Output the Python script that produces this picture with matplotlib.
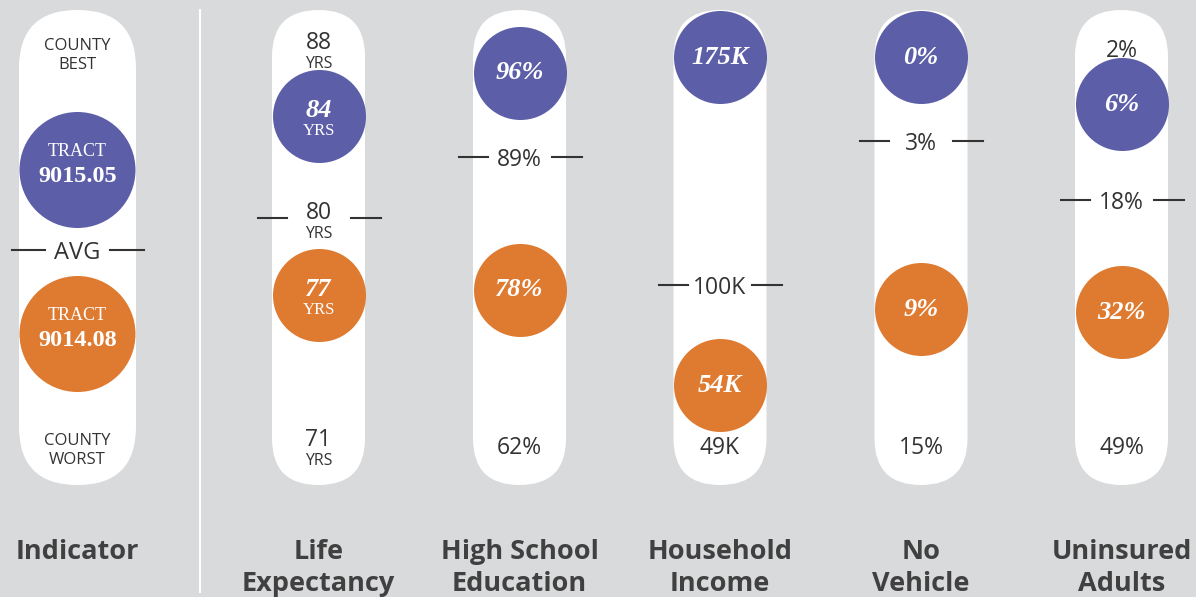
import matplotlib.pyplot as plt
from matplotlib.patches import FancyBboxPatch, Circle

# ---- data ----
indicators = ["Life\nExpectancy", "High School\nEducation", "Household\nIncome",
              "No\nVehicle", "Uninsured\nAdults"]
units = ["YRS", "", "", "", ""]
suffix = ["", "%", "K", "%", "%"]
tract_names = ["9015.05", "9014.08"]
tract_a = [84, 96, 175, 0, 6]        # tract 9015.05
tract_b = [77, 78, 54, 9, 32]        # tract 9014.08
county_avg = [80, 89, 100, 3, 18]
county_best = [88, 96, 175, 0, 2]
county_worst = [71, 62, 49, 15, 49]

# value range of each track (top end, bottom end)
scale_top = [86.3, 97.3, 175, 0, 0.1]
scale_bottom = [71.4, 65.7, 49.7, 13.6, 47.7]

# ---- style / layout ----
W, H = 1196, 597
BG = "#d9dadc"
PURPLE = "#5c5ea8"
ORANGE = "#df7a31"
INK = "#333333"
TITLE = "#404040"
SANS = ["Open Sans", "DejaVu Sans"]
SERIF = ["Liberation Serif", "DejaVu Serif"]
PX = 0.72  # points per pixel at 100 dpi
DY = 3     # sans text sits a little low in the reference

NUM_FS = 16.5
UNIT_FS = 11.5
BUB_FS = 19
TITLE_FS = 19.5

key_x = 77.5
col_x = [318.5, 519.5, 720, 921, 1121.5]
PILL_TOP, PILL_BOT = 10, 485
TRACK_TOP, TRACK_BOT = 57, 438
MIN_FRAC = 0.139  # keep bubbles clear of the bottom label

fig = plt.figure(figsize=(W / 100, H / 100), dpi=100, facecolor=BG)
bg = fig.add_axes([0, 0, 1, 1])
bg.set_xlim(0, W)
bg.set_ylim(H, 0)
bg.axis("off")


def pill(cx, w):
    bg.add_patch(FancyBboxPatch((cx - w / 2, PILL_TOP), w, PILL_BOT - PILL_TOP,
                                boxstyle="round,pad=0,rounding_size=%g" % (w / 2),
                                fc="white", ec="none"))


def label(x, y, s, size, **kw):
    bg.text(x, y, s, ha="center", va="center", fontsize=size, **kw)


def sans(x, y, s, size, **kw):
    label(x, y + DY, s, size, family=SANS, **kw)


# ---- key column ----
pill(key_x, 117)
sans(key_x, 43, "COUNTY", 12, color=INK)
sans(key_x, 62, "BEST", 12, color=INK)
sans(key_x, 438, "COUNTY", 12, color=INK)
sans(key_x, 457, "WORST", 12, color=INK)
for cy, col, nm in [(170, PURPLE, tract_names[0]), (334, ORANGE, tract_names[1])]:
    bg.add_patch(Circle((key_x, cy), 58, fc=col, ec="none"))
    label(key_x, cy - 18, "TRACT", 13, color="white", family=SERIF)
    label(key_x, cy + 7, nm, 17.5, color="white", family=SERIF, weight="bold")
bg.plot([12, 45], [250, 250], color=INK, lw=1.5)
bg.plot([110, 144], [250, 250], color=INK, lw=1.5)
sans(key_x, 250, "AVG", NUM_FS + 0.5, color=INK)
sans(key_x, 549, "Indicator", TITLE_FS, color=TITLE, weight="bold")

bg.plot([200, 200], [10, 592], color="white", lw=1.5)

# ---- indicator columns ----
for i, name in enumerate(indicators):
    cx = col_x[i]
    pill(cx, 93)
    ax = fig.add_axes([(cx - 70) / W, (H - TRACK_BOT) / H, 140 / W,
                       (TRACK_BOT - TRACK_TOP) / H])
    ax.set_xlim(-70, 70)
    ax.set_ylim(scale_bottom[i], scale_top[i])
    ax.axis("off")
    lo, hi = scale_bottom[i], scale_top[i]

    # county average tick
    avg = county_avg[i]
    ax.plot([-61, -32], [avg, avg], color=INK, lw=1.5, clip_on=False)
    ax.plot([32, 62], [avg, avg], color=INK, lw=1.5, clip_on=False)
    txt = "%g%s" % (avg, suffix[i])
    if units[i]:
        ax.annotate(txt, (0, avg), xytext=(0, (8 - DY) * PX), textcoords="offset points",
                    ha="center", va="center", fontsize=NUM_FS, color=INK, family=SANS)
        ax.annotate(units[i], (0, avg), xytext=(0, (-13 - DY) * PX),
                    textcoords="offset points", ha="center", va="center",
                    fontsize=UNIT_FS, color=INK, family=SANS)
    else:
        ax.annotate(txt, (0, avg), xytext=(0, -DY * PX), textcoords="offset points",
                    ha="center", va="center", fontsize=NUM_FS, color=INK, family=SANS)

    # tract bubbles
    for val, col in [(tract_a[i], PURPLE), (tract_b[i], ORANGE)]:
        frac = min(max((val - lo) / (hi - lo), MIN_FRAC), 1.0)
        y = lo + frac * (hi - lo)
        ax.scatter([0], [y], s=(93 * PX) ** 2, color=col, linewidths=0,
                   clip_on=False, zorder=3)
        vt = "%g%s" % (val, suffix[i])
        if units[i]:
            ax.annotate(vt, (0, y), xytext=(0, 5 * PX), textcoords="offset points",
                        ha="center", va="center", fontsize=BUB_FS, color="white",
                        family=SERIF, weight="bold", style="italic", zorder=4)
            ax.annotate(units[i], (0, y), xytext=(0, -15 * PX), textcoords="offset points",
                        ha="center", va="center", fontsize=12, color="white",
                        family=SERIF, zorder=4)
        else:
            ax.annotate(vt, (0, y), ha="center", va="center", fontsize=BUB_FS,
                        color="white", family=SERIF, weight="bold", style="italic",
                        zorder=4)

    # county best / worst at the ends of the track
    ends = [(county_worst[i], 445)]
    if county_best[i] != tract_a[i]:
        ends.append((county_best[i], 48))
    for v, base in ends:
        t = "%g%s" % (v, suffix[i])
        if units[i]:
            sans(cx, base - 8, t, NUM_FS, color=INK)
            sans(cx, base + 13, units[i], UNIT_FS, color=INK)
        else:
            sans(cx, base, t, NUM_FS, color=INK)

    for k, line in enumerate(name.split("\n")):
        sans(cx, 549 + 32 * k, line, TITLE_FS, color=TITLE, weight="bold")

fig.savefig("out.png", dpi=100, facecolor=BG)
